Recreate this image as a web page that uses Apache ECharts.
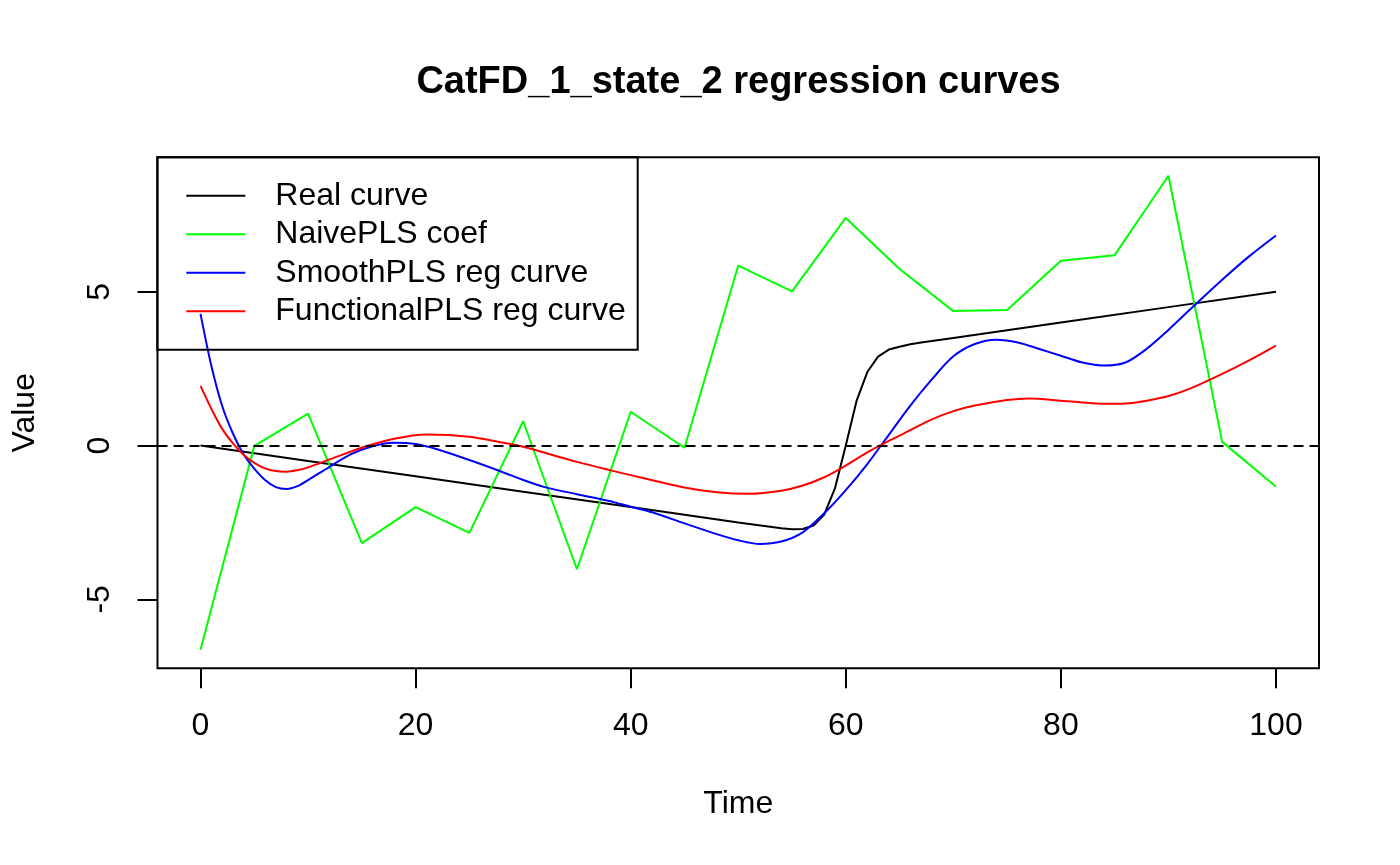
<!DOCTYPE html>
<html>
<head>
<meta charset="utf-8">
<script src="https://cdn.jsdelivr.net/npm/echarts@6/dist/echarts.min.js"></script>
<style>
html,body{margin:0;padding:0;background:#fff;}
#chart{width:1400px;height:865px;}
</style>
</head>
<body>
<div id="chart"></div>
<script>
// ---- data ----
const titleText = 'CatFD_1_state_2 regression curves';
const seriesNames = ['Real curve', 'NaivePLS coef', 'SmoothPLS reg curve', 'FunctionalPLS reg curve'];
const xTicks = [0, 20, 40, 60, 80, 100];
const yTicks = [-5, 0, 5];

const realX = [0,10,20,30,40,50,54,55,56,57,58,59,60,61,62,63,64,65,66,67,68,70,80,90,100];
const realY = [0,-0.5,-1.0,-1.5,-2.0,-2.5,-2.69,-2.72,-2.71,-2.6,-2.24,-1.38,0,1.45,2.39,2.89,3.12,3.21,3.29,3.35,3.4,3.5,4.0,4.5,5.0];

const naiveX = [0,5,10,15,20,25,30,35,40,45,50,55,60,65,70,75,80,85,90,95,100];
const naiveY = [-6.64,-0.01,1.04,-3.17,-2.0,-2.84,0.79,-4.02,1.10,-0.07,5.85,5.01,7.40,5.74,4.37,4.41,6.01,6.19,8.77,0.12,-1.34];

const smoothX = [0,1,2,3,4,5,6,7,8,9,10,12,14,16,18,20,22,25,28,30,32,35,38,40,42,45,48,50,52,54,56,58,60,62,64,66,68,70,72,74,76,78,80,82,84,86,88,90,92,95,97.5,100];
const smoothY = [4.28,2.6,1.3,0.4,-0.28,-0.75,-1.12,-1.35,-1.41,-1.32,-1.12,-0.69,-0.28,-0.02,0.09,0.05,-0.12,-0.47,-0.85,-1.12,-1.35,-1.58,-1.8,-1.99,-2.17,-2.53,-2.88,-3.08,-3.2,-3.12,-2.82,-2.2,-1.45,-0.6,0.35,1.3,2.15,2.9,3.3,3.44,3.35,3.14,2.92,2.7,2.6,2.7,3.15,3.76,4.42,5.39,6.15,6.83];

const funcX = [0,1,2,3,4,5,6,7,8,9,10,12,15,18,21,25,28,30,35,40,45,48,51,54,56,58,60,62,64,66,68,70,72,75,77,80,82,84,86,88,90,92,95,97.5,100];
const funcY = [1.94,1.2,0.55,0.08,-0.3,-0.56,-0.74,-0.83,-0.85,-0.8,-0.71,-0.45,-0.07,0.22,0.36,0.29,0.1,-0.04,-0.53,-0.96,-1.36,-1.52,-1.57,-1.47,-1.3,-1.03,-0.65,-0.22,0.15,0.5,0.85,1.12,1.3,1.48,1.53,1.46,1.4,1.36,1.37,1.46,1.61,1.85,2.33,2.77,3.25];

const colors = ['#000000', '#00ff00', '#0000ff', '#ff0000'];

function pairs(xs, ys) { return xs.map((x, i) => [x, ys[i]]); }

const FONT = "'Liberation Sans', Arial, Helvetica, sans-serif";

const chart = echarts.init(document.getElementById('chart'), null, {renderer: 'canvas'});

function lineSeries(name, xs, ys, color, smooth, extra) {
  return Object.assign({
    name: name,
    type: 'line',
    data: pairs(xs, ys),
    showSymbol: false,
    symbol: 'none',
    smooth: smooth,
    lineStyle: {color: color, width: 2},
    itemStyle: {color: color},
    emphasis: {disabled: true},
    animation: false
  }, extra || {});
}

const option = {
  animation: false,
  backgroundColor: '#ffffff',
  textStyle: {fontFamily: FONT},
  title: {
    text: titleText,
    left: 738.5,
    top: 64,
    textAlign: 'center',
    padding: 0,
    textStyle: {fontFamily: FONT, fontSize: 38, fontWeight: 'bold', color: '#000'}
  },
  legend: {
    data: seriesNames,
    orient: 'vertical',
    left: 157.3,
    top: 157.3,
    padding: [22.5, 12, 22.5, 28],
    itemWidth: 59,
    itemHeight: 14,
    itemGap: 6.5,
    borderColor: '#000',
    borderWidth: 2,
    backgroundColor: 'transparent',
    selectedMode: false,
    itemStyle: {opacity: 0},
    lineStyle: {width: 2},
    textStyle: {fontFamily: FONT, fontSize: 32, color: '#000', lineHeight: 32, padding: [0, 0, 0, 25]}
  },
  grid: {
    left: 157.5,
    top: 157.3,
    width: 1161.5,
    height: 511,
    show: true,
    borderColor: '#000',
    borderWidth: 2,
    backgroundColor: 'transparent',
    containLabel: false
  },
  xAxis: {
    type: 'value',
    min: -4,
    max: 104,
    name: 'Time',
    nameLocation: 'middle',
    nameGap: 120,
    nameTextStyle: {fontFamily: FONT, fontSize: 32, color: '#000'},
    axisLine: {show: false, onZero: false},
    axisTick: {show: true, length: 20, lineStyle: {color: '#000', width: 2}, customValues: xTicks},
    axisLabel: {show: true, fontFamily: FONT, fontSize: 32, color: '#000', margin: 42, customValues: xTicks},
    splitLine: {show: false}
  },
  yAxis: {
    type: 'value',
    min: -7.24,
    max: 9.37,
    name: 'Value',
    nameLocation: 'middle',
    nameGap: 116,
    nameRotate: 90,
    nameTextStyle: {fontFamily: FONT, fontSize: 32, color: '#000'},
    axisLine: {show: false, onZero: false},
    axisTick: {show: true, length: 20, lineStyle: {color: '#000', width: 2}, customValues: yTicks},
    axisLabel: {show: true, fontFamily: FONT, fontSize: 32, color: '#000', margin: 41, rotate: 90, customValues: yTicks},
    splitLine: {show: false}
  },
  series: [
    lineSeries(seriesNames[0], realX, realY, colors[0], false, {
      markLine: {
        silent: true,
        symbol: ['none', 'none'],
        label: {show: false},
        lineStyle: {color: '#000', width: 2, type: [10, 6]},
        emphasis: {disabled: true},
        animation: false,
        data: [{yAxis: 0}]
      }
    }),
    lineSeries(seriesNames[1], naiveX, naiveY, colors[1], false),
    lineSeries(seriesNames[2], smoothX, smoothY, colors[2], 0.3),
    lineSeries(seriesNames[3], funcX, funcY, colors[3], 0.3)
  ]
};
chart.setOption(option);
</script>
</body>
</html>
